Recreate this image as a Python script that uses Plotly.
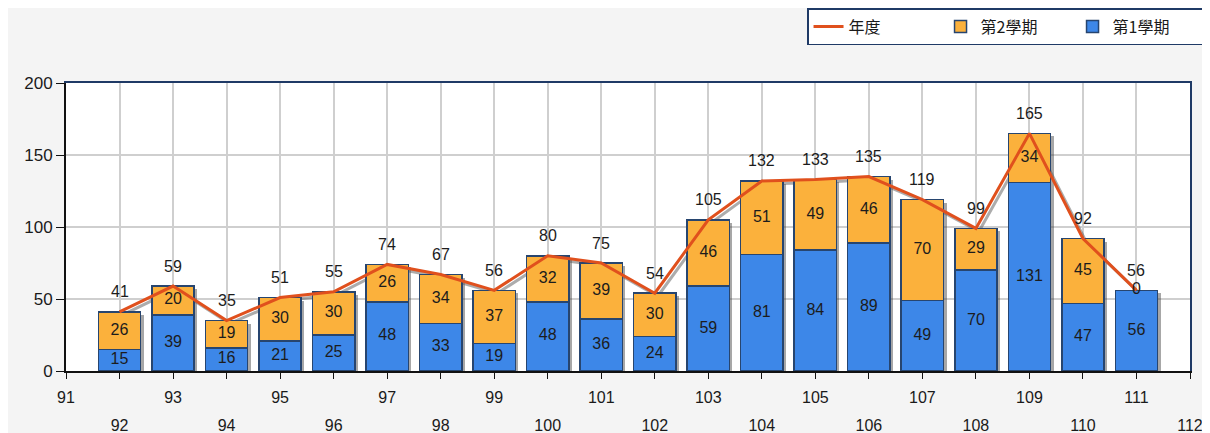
import plotly.graph_objects as go

years = list(range(92, 112))
sem1 = [15, 39, 16, 21, 25, 48, 33, 19, 48, 36, 24, 59, 81, 84, 89, 49, 70, 131, 47, 56]
sem2 = [26, 20, 19, 30, 30, 26, 34, 37, 32, 39, 30, 46, 51, 49, 46, 70, 29, 34, 45, 0]
totals = [a + b for a, b in zip(sem1, sem2)]
tick_years = list(range(91, 113))
odd_text = [str(y) if y % 2 == 1 else "" for y in tick_years]
even_years = [y for y in tick_years if y % 2 == 0]

BLUE = "#3d87e8"
ORANGE = "#fbb13c"
EDGE = "#27456f"
LINE = "#e0501d"
SHADOW = "rgba(60,60,60,0.45)"
FONT = "Liberation Sans, Arial, sans-serif"

fig = go.Figure()

# shadows on base (shifted) axes
fig.add_trace(go.Bar(x=years, y=sem1, marker=dict(color=SHADOW, line=dict(width=0)),
                     width=0.79, showlegend=False, hoverinfo="skip", xaxis="x", yaxis="y"))
fig.add_trace(go.Bar(x=years, y=sem2, marker=dict(color=SHADOW, line=dict(width=0)),
                     width=0.79, showlegend=False, hoverinfo="skip", xaxis="x", yaxis="y"))
fig.add_trace(go.Scatter(x=years, y=totals, mode="lines", line=dict(color="rgba(90,90,90,0.5)", width=3),
                         showlegend=False, hoverinfo="skip", xaxis="x", yaxis="y"))

# main content on overlay axes
fig.add_trace(go.Bar(x=years, y=sem1, name="第1學期", marker=dict(color=BLUE, line=dict(color=EDGE, width=1.5)),
                     width=0.79, xaxis="x2", yaxis="y2", legendrank=3))
fig.add_trace(go.Bar(x=years, y=sem2, name="第2學期", marker=dict(color=ORANGE, line=dict(color=EDGE, width=1.5)),
                     width=0.79, xaxis="x2", yaxis="y2", legendrank=2))
fig.add_trace(go.Scatter(x=years, y=totals, name="年度", mode="lines", line=dict(color=LINE, width=3),
                         xaxis="x2", yaxis="y2", legendrank=1))

# segment labels
fig.add_trace(go.Scatter(x=years, y=[v / 2 for v in sem1], mode="text", text=[str(v) for v in sem1],
                         textfont=dict(family=FONT, size=16, color="#1c1c1c"), showlegend=False,
                         hoverinfo="skip", xaxis="x2", yaxis="y2"))
fig.add_trace(go.Scatter(x=years, y=[a + b / 2 for a, b in zip(sem1, sem2)], mode="text",
                         text=[str(v) for v in sem2],
                         textfont=dict(family=FONT, size=16, color="#1c1c1c"), showlegend=False,
                         hoverinfo="skip", xaxis="x2", yaxis="y2"))
# helper trace for the second tick-label row axis
fig.add_trace(go.Scatter(x=[], y=[], showlegend=False, hoverinfo="skip", xaxis="x3", yaxis="y2"))

for yr, tot in zip(years, totals):
    fig.add_annotation(x=yr, y=tot, xref="x2", yref="y2", text=str(tot), showarrow=False,
                       yshift=20, font=dict(family=FONT, size=16, color="#1c1c1c"))

px_x = 21 / 1124
px_y = 200 / 288

fig.update_layout(
    width=1202, height=425,
    margin=dict(l=58, r=20, t=75, b=62, autoexpand=False),
    paper_bgcolor="#f4f4f4",
    plot_bgcolor="white",
    barmode="stack",
    font=dict(family=FONT, size=16, color="#1a1a1a"),
    xaxis=dict(range=[91 - 3 * px_x, 112 - 3 * px_x], showgrid=False, showticklabels=False, ticks="",
               side="top", showline=True, linecolor="#1f3a66", linewidth=1.5, zeroline=False, fixedrange=True),
    yaxis=dict(range=[0 + 3 * px_y, 200 + 3 * px_y], showgrid=False, showticklabels=False, ticks="",
               side="right", showline=True, linecolor="#1f3a66", linewidth=1.5, zeroline=False, fixedrange=True),
    xaxis2=dict(overlaying="x", range=[91, 112], tickvals=tick_years, ticktext=odd_text,
                showgrid=True, gridcolor="#cfcfcf", gridwidth=1.5, ticks="outside", ticklen=6,
                tickcolor="#111", showline=True, linecolor="#111", linewidth=2, zeroline=False,
                ticklabelstandoff=5, automargin=False,
                tickfont=dict(family=FONT, size=16, color="#1a1a1a")),
    xaxis3=dict(overlaying="x", range=[91, 112], tickvals=even_years, ticktext=[str(y) for y in even_years],
                showgrid=False, ticks="", showline=False, zeroline=False, ticklabelstandoff=43,
                automargin=False,
                tickfont=dict(family=FONT, size=16, color="#1a1a1a")),
    yaxis2=dict(overlaying="y", range=[0, 200], tickvals=[0, 50, 100, 150, 200],
                showgrid=True, gridcolor="#cfcfcf", gridwidth=1.5, ticks="outside", ticklen=8,
                tickcolor="#111", showline=True, linecolor="#111", linewidth=2, zeroline=False,
                automargin=False,
                tickfont=dict(family=FONT, size=17, color="#1a1a1a")),
    legend=dict(orientation="h", xref="container", yref="container", x=0.9967, xanchor="right",
                y=1.0, yanchor="top",
                bgcolor="white", bordercolor="#1f3a66", borderwidth=1.5,
                font=dict(family="Noto Sans CJK TC, sans-serif", size=16, color="#1a1a1a"),
                traceorder="normal", entrywidth=87, entrywidthmode="pixels"),
)

fig.write_html("out.html")
